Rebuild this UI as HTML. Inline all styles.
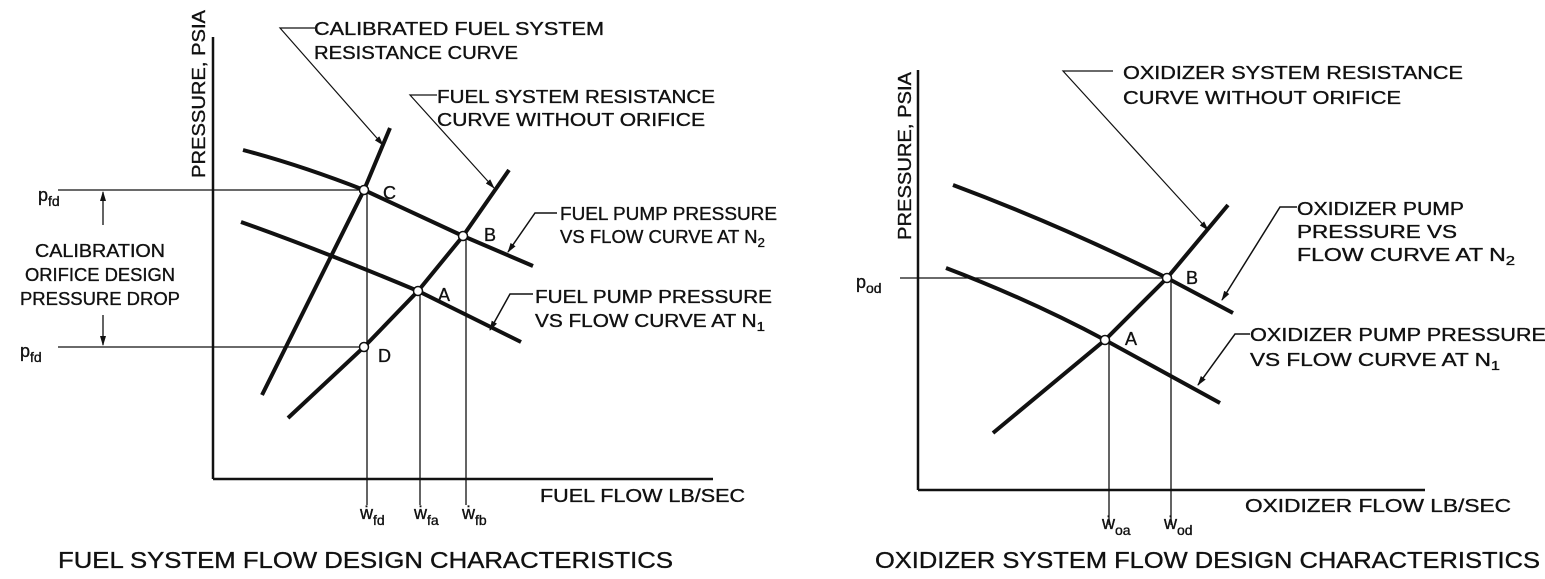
<!DOCTYPE html>
<html><head><style>
html,body{margin:0;padding:0;background:#fff;}
svg{display:block;}
text{font-family:"Liberation Sans",sans-serif;fill:#111;stroke:#111;stroke-width:0.35;}
.l{font-size:18px;}
.t{font-size:23px;}
</style></head><body>
<svg width="1545" height="579" viewBox="0 0 1545 579" xmlns="http://www.w3.org/2000/svg">
<defs>
<marker id="ah" markerWidth="10" markerHeight="10" refX="9" refY="5" orient="auto" markerUnits="userSpaceOnUse"><path d="M0,2 L10,5 L0,8 z" fill="#111"/></marker>
</defs>
<g stroke="#111" fill="none">
<line x1="213" y1="37" x2="213" y2="479" stroke-width="2.5"/>
<line x1="213" y1="479" x2="713" y2="479" stroke-width="2.5"/>
<path d="M243,150 Q300,165 364,190 L463,236 L533,266" stroke-width="4"/>
<path d="M241,222 Q320,250 418,291 L521,342" stroke-width="4"/>
<path d="M262,395 L364,190 L390,128" stroke-width="4"/>
<path d="M288,418 L364,347 L418,291 L463,236 L509,170" stroke-width="4"/>
<line x1="58" y1="190" x2="364" y2="190" stroke-width="1.3"/>
<line x1="58" y1="347" x2="364" y2="347" stroke-width="1.3"/>
<line x1="367" y1="190" x2="367" y2="505" stroke-width="1.3"/>
<line x1="420" y1="291" x2="420" y2="505" stroke-width="1.3"/>
<line x1="466" y1="236" x2="466" y2="505" stroke-width="1.3"/>
<line x1="103" y1="225" x2="103" y2="192" stroke-width="1.3" marker-end="url(#ah)"/>
<line x1="103" y1="315" x2="103" y2="345" stroke-width="1.3" marker-end="url(#ah)"/>
<polyline points="315,28 280,28 383,145" stroke-width="1.2" marker-end="url(#ah)"/>
<polyline points="437,95 410,95 494,188" stroke-width="1.2" marker-end="url(#ah)"/>
<polyline points="557,213 535,213 508,252" stroke-width="1.5" marker-end="url(#ah)"/>
<polyline points="533,294 510,294 490,330" stroke-width="1.5" marker-end="url(#ah)"/>
<line x1="918" y1="70" x2="918" y2="490" stroke-width="2.5"/>
<line x1="918" y1="490" x2="1425" y2="490" stroke-width="2.5"/>
<path d="M953,185 Q1060,225 1167,278 L1233,313" stroke-width="4"/>
<path d="M946,268 Q1030,300 1105,340 L1220,403" stroke-width="4"/>
<path d="M993,433 L1105,340 L1167,278 L1228,205" stroke-width="4"/>
<line x1="900" y1="278" x2="1167" y2="278" stroke-width="1.3"/>
<line x1="1109" y1="340" x2="1109" y2="525" stroke-width="1.3"/>
<line x1="1171" y1="278" x2="1171" y2="525" stroke-width="1.3"/>
<polyline points="1113,71 1063,71 1208,230" stroke-width="1.2" marker-end="url(#ah)"/>
<polyline points="1297,207 1280,207 1222,300" stroke-width="1.5" marker-end="url(#ah)"/>
<polyline points="1250,334 1235,334 1198,385" stroke-width="1.5" marker-end="url(#ah)"/>
</g>
<g fill="#fff" stroke="#111" stroke-width="1.5">
<circle cx="364" cy="190" r="4.5"/><circle cx="463" cy="236" r="4.5"/>
<circle cx="418" cy="291" r="4.5"/><circle cx="364" cy="347" r="4.5"/>
<circle cx="1167" cy="278" r="4.5"/><circle cx="1105" cy="340" r="4.5"/>
</g>
<text class="l" transform="translate(205,178) rotate(-90)" textLength="168" lengthAdjust="spacingAndGlyphs">PRESSURE, PSIA</text>
<text class="l" x="314" y="35" textLength="290" lengthAdjust="spacingAndGlyphs">CALIBRATED FUEL SYSTEM</text>
<text class="l" x="314" y="59" textLength="204" lengthAdjust="spacingAndGlyphs">RESISTANCE CURVE</text>
<text class="l" x="437" y="103" textLength="278" lengthAdjust="spacingAndGlyphs">FUEL SYSTEM RESISTANCE</text>
<text class="l" x="437" y="126" textLength="268" lengthAdjust="spacingAndGlyphs">CURVE WITHOUT ORIFICE</text>
<text class="l" x="560" y="220" textLength="217" lengthAdjust="spacingAndGlyphs">FUEL PUMP PRESSURE</text>
<text class="l" x="560" y="243" textLength="205" lengthAdjust="spacingAndGlyphs">VS FLOW CURVE AT N<tspan font-size="13" dy="4">2</tspan></text>
<text class="l" x="535" y="303" textLength="237" lengthAdjust="spacingAndGlyphs">FUEL PUMP PRESSURE</text>
<text class="l" x="535" y="327" textLength="230" lengthAdjust="spacingAndGlyphs">VS FLOW CURVE AT N<tspan font-size="13" dy="4">1</tspan></text>
<text class="l" x="383" y="199">C</text>
<text class="l" x="484" y="241">B</text>
<text class="l" x="438" y="301">A</text>
<text class="l" x="378" y="362">D</text>
<text class="l" x="38" y="201">p<tspan font-size="14" dy="5">fd</tspan></text>
<text class="l" x="20" y="357">p<tspan font-size="14" dy="5">fd</tspan></text>
<text class="l" x="100" y="257" text-anchor="middle" textLength="130" lengthAdjust="spacingAndGlyphs">CALIBRATION</text>
<text class="l" x="100" y="281" text-anchor="middle" textLength="150" lengthAdjust="spacingAndGlyphs">ORIFICE DESIGN</text>
<text class="l" x="100" y="305" text-anchor="middle" textLength="160" lengthAdjust="spacingAndGlyphs">PRESSURE DROP</text>
<text class="l" x="540" y="502" textLength="205" lengthAdjust="spacingAndGlyphs">FUEL FLOW LB/SEC</text>
<text class="l" x="360" y="519">ẇ<tspan font-size="14" dy="6">fd</tspan></text>
<text class="l" x="414" y="519">ẇ<tspan font-size="14" dy="6">fa</tspan></text>
<text class="l" x="462" y="519">ẇ<tspan font-size="14" dy="6">fb</tspan></text>
<text class="t" x="58" y="568" textLength="615" lengthAdjust="spacingAndGlyphs">FUEL SYSTEM FLOW DESIGN CHARACTERISTICS</text>
<text class="l" transform="translate(911,240) rotate(-90)" textLength="168" lengthAdjust="spacingAndGlyphs">PRESSURE, PSIA</text>
<text class="l" x="1123" y="79" textLength="340" lengthAdjust="spacingAndGlyphs">OXIDIZER SYSTEM RESISTANCE</text>
<text class="l" x="1123" y="104" textLength="278" lengthAdjust="spacingAndGlyphs">CURVE WITHOUT ORIFICE</text>
<text class="l" x="1297" y="215" textLength="167" lengthAdjust="spacingAndGlyphs">OXIDIZER PUMP</text>
<text class="l" x="1297" y="238" textLength="160" lengthAdjust="spacingAndGlyphs">PRESSURE VS</text>
<text class="l" x="1297" y="261" textLength="218" lengthAdjust="spacingAndGlyphs">FLOW CURVE AT N<tspan font-size="13" dy="4">2</tspan></text>
<text class="l" x="1250" y="341" textLength="296" lengthAdjust="spacingAndGlyphs">OXIDIZER PUMP PRESSURE</text>
<text class="l" x="1250" y="366" textLength="250" lengthAdjust="spacingAndGlyphs">VS FLOW CURVE AT N<tspan font-size="13" dy="4">1</tspan></text>
<text class="l" x="1186" y="284">B</text>
<text class="l" x="1125" y="345">A</text>
<text class="l" x="856" y="288">p<tspan font-size="14" dy="5">od</tspan></text>
<text class="l" x="1245" y="512" textLength="266" lengthAdjust="spacingAndGlyphs">OXIDIZER FLOW LB/SEC</text>
<text class="l" x="1102" y="529">ẇ<tspan font-size="14" dy="6">oa</tspan></text>
<text class="l" x="1164" y="529">ẇ<tspan font-size="14" dy="6">od</tspan></text>
<text class="t" x="875" y="568" textLength="665" lengthAdjust="spacingAndGlyphs">OXIDIZER SYSTEM FLOW DESIGN CHARACTERISTICS</text>
</svg>
</body></html>
